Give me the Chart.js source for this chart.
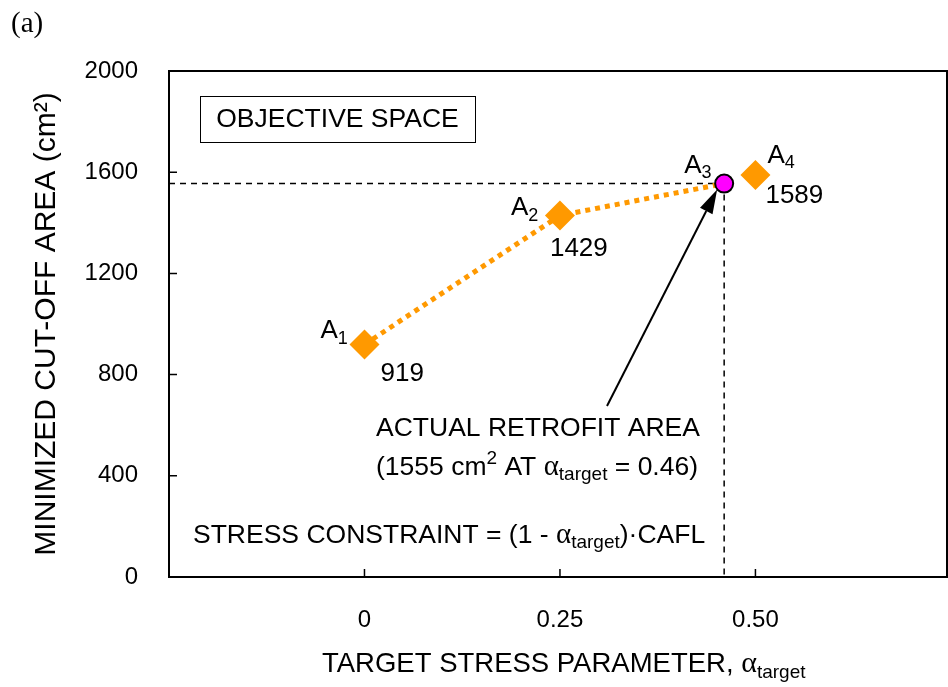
<!DOCTYPE html>
<html>
<head>
<meta charset="utf-8">
<script src="https://cdn.jsdelivr.net/npm/chart.js@4.4.0/dist/chart.umd.min.js"></script>
<style>
  html, body { margin: 0; padding: 0; background: #fff; overflow: hidden; }
  #chart { display: block; }
</style>
</head>
<body>
<canvas id="chart" width="948" height="687"></canvas>
<script>
// designs A1..A4: target stress parameter and the minimized cut-off area
const pointNames = ["A1", "A2", "A3", "A4"];
const alphaTarget = [0, 0.25, 0.46, 0.5];
const cutOffArea = [919, 1429, 1555, 1589];
// A3 is the design used for the actual retrofit
const chosenIndex = 2;
const xTickValues = [0, 0.25, 0.5];
const xTickLabels = ["0", "0.25", "0.50"];
const yTickValues = [0, 400, 800, 1200, 1600, 2000];

const FONT = '"Liberation Sans", Arial, sans-serif';
const SERIF = '"Liberation Serif", "Times New Roman", serif';
const ORANGE = "#ff9900";
const MAGENTA = "#ff00ff";

const points = alphaTarget.map((a, i) => ({ x: a, y: cutOffArea[i] }));
// dotted path runs A1 -> A2 -> A3
const pathPoints = points.slice(0, chosenIndex + 1);
const diamondPoints = points.filter((p, i) => i !== chosenIndex);

// text with sub/superscript pieces: [text, "n" | "sub" | "sup" | "greek"]
function drawRich(ctx, x, y, parts, size) {
  ctx.textAlign = "left";
  ctx.textBaseline = "alphabetic";
  let cx = x;
  parts.forEach(([t, kind]) => {
    let s = size, dy = 0, fam = FONT;
    if (kind === "sub") { s = Math.round(size * 0.7); dy = size * 0.2; }
    if (kind === "sup") { s = Math.round(size * 0.7); dy = -size * 0.4; }
    if (kind === "greek") { s = Math.round(size * 1.1); fam = SERIF; }
    ctx.font = s + "px " + fam;
    ctx.fillText(t, cx, y + dy);
    cx += ctx.measureText(t).width;
  });
  return cx;
}

const framePlugin = {
  id: "frame",
  beforeDatasetsDraw(chart) {
    const { ctx, chartArea: ca, scales } = chart;
    const xs = scales.x, ys = scales.y;
    ctx.save();
    // guide lines to the chosen design
    const gx = xs.getPixelForValue(alphaTarget[chosenIndex]);
    const gy = ys.getPixelForValue(cutOffArea[chosenIndex]);
    ctx.strokeStyle = "#000";
    ctx.lineWidth = 1.5;
    ctx.setLineDash([6, 5]);
    ctx.beginPath();
    ctx.moveTo(ca.left, gy);
    ctx.lineTo(gx, gy);
    ctx.moveTo(gx, gy);
    ctx.lineTo(gx, ca.bottom);
    ctx.stroke();
    ctx.setLineDash([]);
    // plot frame
    ctx.lineWidth = 2;
    ctx.strokeRect(ca.left, ca.top, ca.right - ca.left, ca.bottom - ca.top);
    // inward tick marks
    ctx.lineWidth = 1.5;
    ctx.beginPath();
    yTickValues.forEach(v => {
      const py = ys.getPixelForValue(v);
      ctx.moveTo(ca.left, py);
      ctx.lineTo(ca.left + 8, py);
    });
    xTickValues.forEach(v => {
      const px = xs.getPixelForValue(v);
      ctx.moveTo(px, ca.bottom);
      ctx.lineTo(px, ca.bottom - 8);
    });
    ctx.stroke();
    ctx.restore();
  },
  afterDatasetsDraw(chart) {
    const { ctx, scales } = chart;
    const xs = scales.x, ys = scales.y;
    ctx.save();
    ctx.fillStyle = "#000";
    ctx.strokeStyle = "#000";

    // panel tag
    ctx.font = "29px " + SERIF;
    ctx.textAlign = "left";
    ctx.textBaseline = "alphabetic";
    ctx.fillText("(a)", 11, 32);

    // box label
    ctx.lineWidth = 1;
    ctx.strokeRect(200.5, 96.5, 275, 46);
    ctx.font = "26.5px " + FONT;
    ctx.textAlign = "center";
    ctx.textBaseline = "middle";
    ctx.fillText("OBJECTIVE SPACE", 337.5, 120);

    // point names and values
    const nameOffset = [[-44, -6], [-49, 0], [-40, -11], [12, -12]];
    const valueOffset = [[16, 37], [-10, 41], null, [10, 28]];
    points.forEach((p, i) => {
      const px = xs.getPixelForValue(p.x), py = ys.getPixelForValue(p.y);
      const [nx, ny] = nameOffset[i];
      drawRich(ctx, px + nx, py + ny, [["A", "n"], [pointNames[i].slice(1), "sub"]], 26);
      if (valueOffset[i]) {
        const [vx, vy] = valueOffset[i];
        drawRich(ctx, px + vx, py + vy, [[String(cutOffArea[i]), "n"]], 26);
      }
    });

    // arrow to the chosen design
    const tx = xs.getPixelForValue(alphaTarget[chosenIndex]) - 7;
    const ty = ys.getPixelForValue(cutOffArea[chosenIndex]) + 6;
    const sx = 607, sy = 406;
    const ang = Math.atan2(ty - sy, tx - sx);
    const headLen = 24, headW = 7;
    const bx = tx - headLen * Math.cos(ang), by = ty - headLen * Math.sin(ang);
    ctx.lineWidth = 2;
    ctx.beginPath();
    ctx.moveTo(sx, sy);
    ctx.lineTo(bx, by);
    ctx.stroke();
    ctx.beginPath();
    ctx.moveTo(tx, ty);
    ctx.lineTo(bx + headW * Math.sin(ang), by - headW * Math.cos(ang));
    ctx.lineTo(bx - headW * Math.sin(ang), by + headW * Math.cos(ang));
    ctx.closePath();
    ctx.fill();

    // retrofit note
    drawRich(ctx, 376, 436, [["ACTUAL RETROFIT AREA", "n"]], 26.5);
    drawRich(ctx, 376, 475, [
      ["(" + cutOffArea[chosenIndex] + " cm", "n"], ["2", "sup"], [" AT ", "n"],
      ["\u03b1", "greek"], ["target", "sub"], [" = " + alphaTarget[chosenIndex].toFixed(2) + ")", "n"]
    ], 26.5);
    drawRich(ctx, 193, 543, [
      ["STRESS CONSTRAINT = (1 - ", "n"], ["\u03b1", "greek"], ["target", "sub"], [")\u00b7CAFL", "n"]
    ], 26.5);

    // x axis title
    drawRich(ctx, 322, 672, [
      ["TARGET STRESS PARAMETER, ", "n"], ["\u03b1", "greek"], ["target", "sub"]
    ], 27.5);
    ctx.restore();
  }
};

new Chart(document.getElementById("chart"), {
  type: "scatter",
  plugins: [framePlugin],
  data: {
    datasets: [
      {
        // chosen design
        data: [points[chosenIndex]],
        pointStyle: "circle",
        pointRadius: 9,
        pointBackgroundColor: MAGENTA,
        pointBorderColor: "#000",
        pointBorderWidth: 2,
        order: 1
      },
      {
        data: diamondPoints,
        pointStyle: "rectRot",
        pointRadius: 15,
        pointBackgroundColor: ORANGE,
        pointBorderWidth: 0,
        order: 2
      },
      {
        data: pathPoints,
        showLine: true,
        borderColor: ORANGE,
        borderWidth: 5,
        borderDash: [5, 5],
        pointRadius: 0,
        order: 3
      }
    ]
  },
  options: {
    responsive: false,
    animation: false,
    devicePixelRatio: 1,
    layout: { autoPadding: false, padding: { top: 71, right: 1, left: 0, bottom: 0 } },
    plugins: { legend: { display: false }, tooltip: { enabled: false } },
    scales: {
      x: {
        type: "linear",
        min: -0.25,
        max: 0.745,
        afterBuildTicks: axis => { axis.ticks = xTickValues.map(v => ({ value: v })); },
        afterFit: axis => { axis.height = 110; axis.paddingLeft = 0; axis.paddingRight = 0; },
        grid: { display: false, drawTicks: false },
        border: { display: false },
        ticks: {
          padding: 29,
          color: "#000",
          font: { family: FONT, size: 24 },
          callback: v => xTickLabels[xTickValues.indexOf(v)]
        }
      },
      y: {
        type: "linear",
        min: 0,
        max: 2000,
        afterBuildTicks: axis => { axis.ticks = yTickValues.map(v => ({ value: v })); },
        afterFit: axis => { axis.width = 169; },
        grid: { display: false, drawTicks: false },
        border: { display: false },
        ticks: {
          padding: 31,
          color: "#000",
          font: { family: FONT, size: 24 },
          callback: v => String(v)
        },
        title: {
          display: true,
          text: "MINIMIZED CUT-OFF AREA (cm\u00b2)",
          color: "#000",
          font: { family: FONT, size: 30 },
          padding: { top: 29, bottom: 0 }
        }
      }
    }
  }
});
</script>
</body>
</html>
